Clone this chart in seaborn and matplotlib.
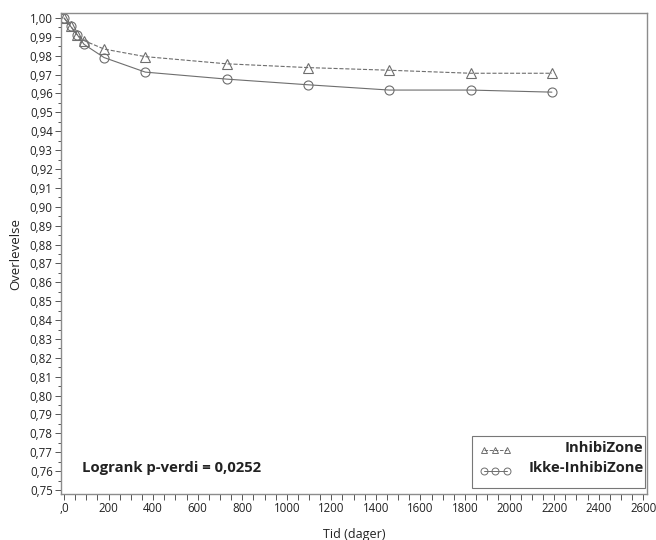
import matplotlib
matplotlib.use("Agg")
import matplotlib.pyplot as plt
from matplotlib.ticker import MultipleLocator, FuncFormatter
from matplotlib.lines import Line2D
import seaborn as sns
import pandas as pd

# survival estimates
days = [0, 30, 60, 90, 180, 365, 730, 1095, 1460, 1825, 2190]
inhibizone = [1.000, 0.9955, 0.991, 0.988, 0.9835, 0.9795, 0.9757, 0.9737, 0.9723, 0.9707, 0.9707]
ikke_inhibizone = [1.000, 0.9955, 0.991, 0.986, 0.979, 0.9713, 0.9676, 0.9646, 0.9618, 0.9618, 0.9607]
group_names = ["InhibiZone", "Ikke-InhibiZone"]
p_text = "Logrank p-verdi = 0,0252"

sns.set_style("ticks")
plt.rcParams["font.family"] = ["Open Sans", "DejaVu Sans"]

df = pd.DataFrame({
    "Tid": days * 2,
    "Overlevelse": inhibizone + ikke_inhibizone,
    "Gruppe": [group_names[0]] * len(days) + [group_names[1]] * len(days),
})

grey = "#6e6e6e"
fig = plt.figure(figsize=(6.56, 5.4), dpi=100)
ax = fig.add_axes([0.093, 0.0852, 0.8933, 0.8907])

sns.lineplot(data=df[df["Gruppe"] == group_names[0]], x="Tid", y="Overlevelse",
             ax=ax, color=grey, linestyle="--", linewidth=0.8, marker="^",
             markersize=6.5, markerfacecolor="none", markeredgecolor=grey,
             markeredgewidth=0.8, legend=False)
sns.lineplot(data=df[df["Gruppe"] == group_names[1]], x="Tid", y="Overlevelse",
             ax=ax, color=grey, linestyle="-", linewidth=0.8, marker="o",
             markersize=6.5, markerfacecolor="none", markeredgecolor=grey,
             markeredgewidth=0.8, legend=False)

ax.set_xlim(-13.5, 2617)
ax.set_ylim(0.7479, 1.0026)
ax.xaxis.set_major_locator(MultipleLocator(200))
ax.xaxis.set_minor_locator(MultipleLocator(50))
ax.yaxis.set_major_locator(MultipleLocator(0.01))
ax.yaxis.set_minor_locator(MultipleLocator(0.005))
ax.xaxis.set_major_formatter(FuncFormatter(lambda v, p: ",0" if abs(v) < 1e-9 else f"{v:.0f}"))
ax.yaxis.set_major_formatter(FuncFormatter(lambda v, p: f"{v:.2f}".replace(".", ",")))
ax.tick_params(axis="both", which="major", labelsize=8.3, length=4, width=0.7,
               color="#555555", labelcolor="#222222", pad=2)
ax.tick_params(axis="x", which="minor", length=4, width=0.7, color="#555555")
ax.tick_params(axis="y", which="minor", length=2.5, width=0.7, color="#555555")

for side in ["left", "right", "top", "bottom"]:
    ax.spines[side].set_visible(True)
    ax.spines[side].set_color("#8c8c8c")
    ax.spines[side].set_linewidth(1.0)

ax.set_xlabel("Tid (dager)", fontsize=9, color="#222222", labelpad=9)
ax.set_ylabel("Overlevelse", fontsize=9.5, color="#222222", labelpad=5)

ax.text(0.036, 0.0534, p_text, transform=ax.transAxes, fontsize=10.7,
        fontweight="bold", color="#222222", va="center", ha="left")

handles = [
    Line2D([], [], color=grey, linestyle="--", linewidth=0.7, marker="^", markersize=5,
           markerfacecolor="none", markeredgecolor=grey, markeredgewidth=0.7),
    Line2D([], [], color=grey, linestyle="-", linewidth=0.7, marker="o", markersize=5,
           markerfacecolor="none", markeredgecolor=grey, markeredgewidth=0.7),
]
leg = ax.legend(handles, ["", ""], loc="lower left", mode="expand",
                bbox_to_anchor=(0.701, 0.0125, 0.2956, 0.1165),
                numpoints=3, handlelength=2.3, fontsize=10, labelspacing=0.45,
                borderpad=0.55, frameon=True, fancybox=False, borderaxespad=0)
leg.get_frame().set_edgecolor("#555555")
leg.get_frame().set_linewidth(0.8)

ax.text(0.994, 0.0963, group_names[0], transform=ax.transAxes, fontsize=10.6,
        fontweight="bold", color="#222222", ha="right", va="center", zorder=10)
ax.text(0.994, 0.0534, group_names[1], transform=ax.transAxes, fontsize=10.6,
        fontweight="bold", color="#222222", ha="right", va="center", zorder=10)

plt.savefig("out.png", dpi=100)
